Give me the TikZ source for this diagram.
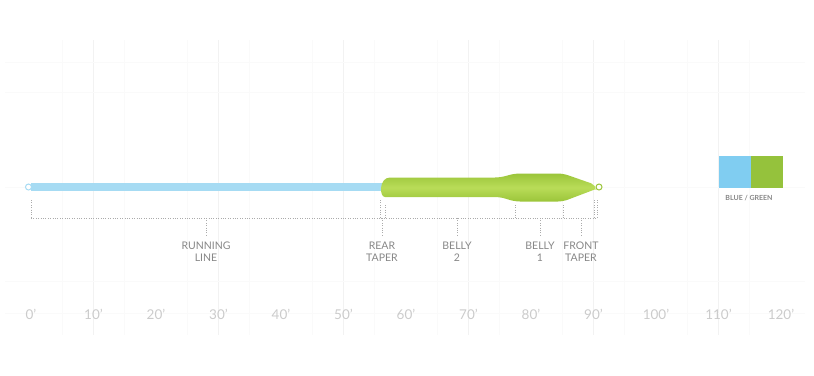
\documentclass[tikz,border=0pt]{standalone}
\usepackage{fontspec}
\setmainfont{Lato}
\usepackage{tikz}
\usetikzlibrary{positioning}

\definecolor{runblue}{HTML}{A6DBF3}
\definecolor{swblue}{HTML}{80CDF1}
\definecolor{swgreen}{HTML}{95C23C}
\definecolor{headdark}{HTML}{9BC53A}
\definecolor{headlight}{HTML}{B9DC58}
\definecolor{dimgray}{HTML}{ABABAB}
\definecolor{txtgray}{HTML}{878787}
\definecolor{axisgray}{HTML}{CBCBCB}
\definecolor{gridfaint}{HTML}{FAFAFA}
\definecolor{gridmajor}{HTML}{F2F2F2}

\begin{document}
\begin{tikzpicture}
[
   x=1pt, y=-1pt,
   align=center,
   dim/.style={draw=dimgray, line width=0.7pt, dash pattern=on 1pt off 1.4pt},
   seglbl/.style={font=\fontsize{10.5}{11.5}\selectfont, text=txtgray, inner sep=0pt},
   axislbl/.style={font=\fontsize{13.5}{13.5}\selectfont, text=axisgray, inner sep=0pt},
   swatch/.style={minimum width=32pt, minimum height=32pt, inner sep=0pt}
]

\useasboundingbox (0,0) rectangle (814,375);

% grid
\foreach \k in {0,...,12}
   \draw[gridfaint, line width=0.6pt] ({31+62.5*\k-31.25},40) -- ({31+62.5*\k-31.25},335);
\foreach \k in {0,...,5}
   \draw[gridmajor, line width=0.6pt] ({93.5+125*\k},40) -- ({93.5+125*\k},335);
\foreach \y in {62,92,187,281,313}
   \draw[gridfaint, line width=0.6pt] (5,\y) -- (805,\y);

% line
\fill[runblue] (31,183) rectangle (386,191);
\shade[top color=headdark, bottom color=headdark, middle color=headlight, rounded corners=5pt]
   (390,177.5) -- (500,177.5) -- (515,173.5) -- (563,173.5) -- (596,185)
   [sharp corners] -- (596,189) [rounded corners=5pt] -- (563,201.5) -- (515,201.5)
   -- (500,197) -- (390,197) [sharp corners] .. controls (379,197) and (379,177.5) .. (390,177.5) -- cycle;
\draw[runblue, fill=white, line width=1pt] (28.5,187) circle (3);
\draw[headdark, fill=white, line width=1pt] (599,187) circle (3);

% nodes
\coordinate (rl-end) at (31,200);
\coordinate (rt-a) at (380,200);
\coordinate (rt-b) at (385,205);
\coordinate (b2-end) at (515,205);
\coordinate (b1-end) at (563,205);
\coordinate (ft-a) at (594,200);
\coordinate (ft-b) at (597,200);
\coordinate (dimline) at (31,218);
\coordinate (c-running) at (206,218);
\coordinate (c-rear) at (382,218);
\coordinate (c-belly2) at (457,218);
\coordinate (c-belly1) at (540,218);
\coordinate (c-front) at (581,218);

\node[seglbl] (running) [below=24pt of c-running] {RUNNING\\LINE};
\node[seglbl] (rear) [below=24pt of c-rear] {REAR\\TAPER};
\node[seglbl] (belly2) [below=24pt of c-belly2] {BELLY\\2};
\node[seglbl] (belly1) [below=24pt of c-belly1] {BELLY\\1};
\node[seglbl] (front) [below=24pt of c-front] {FRONT\\TAPER};

\node[swatch, fill=swblue] (sw-blue) at (735,171.7) {};
\node[swatch, fill=swgreen] (sw-green) [right=0pt of sw-blue] {};
\node[font=\bfseries\fontsize{7}{7}\selectfont, text=txtgray, inner sep=0pt] (sw-lbl) at (749,197.7) {BLUE / GREEN};

\foreach \f in {0,10,...,120}
   \node[axislbl] (ft\f) at ({31+6.25*\f},314) {\f’};

% arcs
\draw[dim] (dimline) -- (ft-b |- dimline);
\foreach \t in {rl-end,rt-a,rt-b,b2-end,b1-end,ft-a,ft-b}
   \draw[dim] (\t) -- (\t |- dimline);
\foreach \c/\l in {c-running/running,c-rear/rear,c-belly2/belly2,c-belly1/belly1,c-front/front}
   \draw[dim] (\c) -- ([yshift=5pt]\l.north);
\end{tikzpicture}
\end{document}
